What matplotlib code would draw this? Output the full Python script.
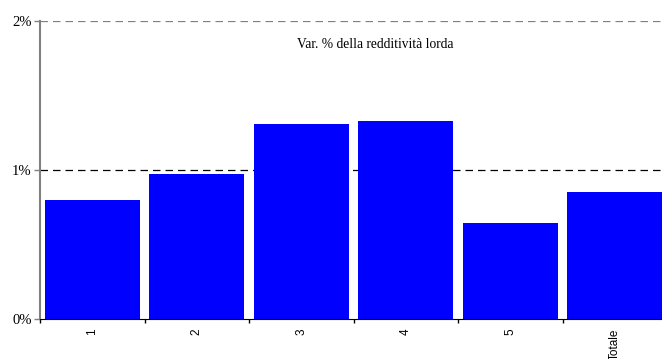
import numpy as np
import matplotlib.pyplot as plt
from matplotlib.ticker import FuncFormatter

categories = ['1', '2', '3', '4', '5', 'Totale']
values = [0.80, 0.975, 1.31, 1.33, 0.645, 0.85]
y_ticks = [0, 1, 2]

plt.rcParams['font.family'] = ['Liberation Serif', 'DejaVu Serif']

fig = plt.figure(figsize=(6.62, 3.59), dpi=100)
ax = fig.add_axes([40 / 662, 40 / 359, 627 / 662, 298 / 359])

x = np.arange(len(categories))
ax.bar(x + 0.5, values, width=0.91, color='#0000ff', zorder=3)

ax.set_xlim(0, len(categories))
ax.set_ylim(0, 2)

# dashed reference lines at each percent
for v in y_ticks[1:]:
    ax.axhline(v, color='black' if v < 2 else '#808080', linestyle=(0, (6, 4)),
               linewidth=0.9, zorder=1)

ax.set_yticks(y_ticks)
ax.yaxis.set_major_formatter(FuncFormatter(lambda v, p: '%d%%' % v))
ax.tick_params(axis='y', direction='out', length=4, width=1, color='#808080',
               labelsize=10.5, pad=2)

# boundaries get the tick marks, centres get the labels
ax.set_xticks(np.arange(len(categories) + 1))
ax.set_xticklabels([])
ax.set_xticks(x + 0.5, minor=True)
ax.set_xticklabels(categories, minor=True, rotation=90, va='top',
                   fontsize=8.5, family='Liberation Sans')
ax.tick_params(axis='x', which='major', direction='out', length=3, width=1)
ax.tick_params(axis='x', which='minor', length=0, pad=7)

for side in ['top', 'right']:
    ax.spines[side].set_visible(False)
ax.spines['left'].set_color('#808080')
ax.spines['left'].set_linewidth(1.5)
ax.spines['bottom'].set_color('black')
ax.spines['bottom'].set_zorder(4)

fig.text(375 / 662, 1 - 45 / 359, 'Var. % della redditività lorda',
         ha='center', va='center', fontsize=9.75)

fig.savefig('out.png', dpi=100)
